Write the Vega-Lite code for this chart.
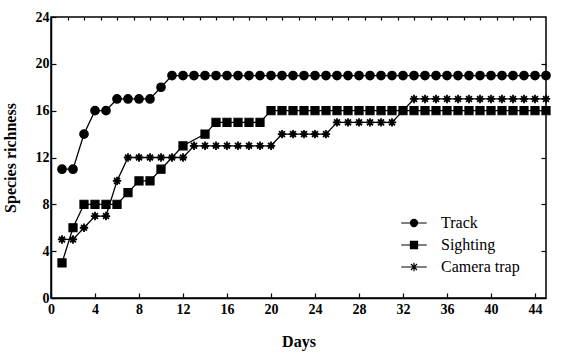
{
  "$schema": "https://vega.github.io/schema/vega-lite/v6.json",
  "autosize": "none",
  "width": 495,
  "height": 281,
  "padding": {"left": 51, "top": 17, "right": 21, "bottom": 57},
  "background": "white",
  "config": {
    "view": {"stroke": "black", "strokeWidth": 1.5},
    "font": "Liberation Serif",
    "axis": {"grid": false, "domainColor": "black", "domainWidth": 1.5, "tickColor": "black", "tickWidth": 1.2, "labelColor": "black", "titleColor": "black", "labelFont": "Liberation Serif", "titleFont": "Liberation Serif"},
    "legend": {"labelFont": "Liberation Serif", "titleFont": "Liberation Serif"}
  },
  "data": {"values": [
    {"day": 1, "Track": 11, "Sighting": 3, "Camera trap": 5},
    {"day": 2, "Track": 11, "Sighting": 6, "Camera trap": 5},
    {"day": 3, "Track": 14, "Sighting": 8, "Camera trap": 6},
    {"day": 4, "Track": 16, "Sighting": 8, "Camera trap": 7},
    {"day": 5, "Track": 16, "Sighting": 8, "Camera trap": 7},
    {"day": 6, "Track": 17, "Sighting": 8, "Camera trap": 10},
    {"day": 7, "Track": 17, "Sighting": 9, "Camera trap": 12},
    {"day": 8, "Track": 17, "Sighting": 10, "Camera trap": 12},
    {"day": 9, "Track": 17, "Sighting": 10, "Camera trap": 12},
    {"day": 10, "Track": 18, "Sighting": 11, "Camera trap": 12},
    {"day": 11, "Track": 19, "Sighting": null, "Camera trap": 12},
    {"day": 12, "Track": 19, "Sighting": 13, "Camera trap": 12},
    {"day": 13, "Track": 19, "Sighting": null, "Camera trap": 13},
    {"day": 14, "Track": 19, "Sighting": 14, "Camera trap": 13},
    {"day": 15, "Track": 19, "Sighting": 15, "Camera trap": 13},
    {"day": 16, "Track": 19, "Sighting": 15, "Camera trap": 13},
    {"day": 17, "Track": 19, "Sighting": 15, "Camera trap": 13},
    {"day": 18, "Track": 19, "Sighting": 15, "Camera trap": 13},
    {"day": 19, "Track": 19, "Sighting": 15, "Camera trap": 13},
    {"day": 20, "Track": 19, "Sighting": 16, "Camera trap": 13},
    {"day": 21, "Track": 19, "Sighting": 16, "Camera trap": 14},
    {"day": 22, "Track": 19, "Sighting": 16, "Camera trap": 14},
    {"day": 23, "Track": 19, "Sighting": 16, "Camera trap": 14},
    {"day": 24, "Track": 19, "Sighting": 16, "Camera trap": 14},
    {"day": 25, "Track": 19, "Sighting": 16, "Camera trap": 14},
    {"day": 26, "Track": 19, "Sighting": 16, "Camera trap": 15},
    {"day": 27, "Track": 19, "Sighting": 16, "Camera trap": 15},
    {"day": 28, "Track": 19, "Sighting": 16, "Camera trap": 15},
    {"day": 29, "Track": 19, "Sighting": 16, "Camera trap": 15},
    {"day": 30, "Track": 19, "Sighting": 16, "Camera trap": 15},
    {"day": 31, "Track": 19, "Sighting": 16, "Camera trap": 15},
    {"day": 32, "Track": 19, "Sighting": 16, "Camera trap": 16},
    {"day": 33, "Track": 19, "Sighting": 16, "Camera trap": 17},
    {"day": 34, "Track": 19, "Sighting": 16, "Camera trap": 17},
    {"day": 35, "Track": 19, "Sighting": 16, "Camera trap": 17},
    {"day": 36, "Track": 19, "Sighting": 16, "Camera trap": 17},
    {"day": 37, "Track": 19, "Sighting": 16, "Camera trap": 17},
    {"day": 38, "Track": 19, "Sighting": 16, "Camera trap": 17},
    {"day": 39, "Track": 19, "Sighting": 16, "Camera trap": 17},
    {"day": 40, "Track": 19, "Sighting": 16, "Camera trap": 17},
    {"day": 41, "Track": 19, "Sighting": 16, "Camera trap": 17},
    {"day": 42, "Track": 19, "Sighting": 16, "Camera trap": 17},
    {"day": 43, "Track": 19, "Sighting": 16, "Camera trap": 17},
    {"day": 44, "Track": 19, "Sighting": 16, "Camera trap": 17},
    {"day": 45, "Track": 19, "Sighting": 16, "Camera trap": 17}
  ]},
  "transform": [
    {"fold": ["Track", "Sighting", "Camera trap"], "as": ["series", "richness"]},
    {"filter": "datum.richness != null"}
  ],
  "layer": [
    {
      "mark": {"type": "line", "color": "black", "strokeWidth": 1.3},
      "encoding": {
        "x": {"field": "day", "type": "quantitative", "scale": {"domain": [0, 45], "nice": false},
          "axis": {"orient": "bottom", "values": [0,4,8,12,16,20,24,28,32,36,40,44], "tickSize": -5, "labelPadding": 9, "labelFontSize": 14, "labelFontWeight": "bold", "title": "Days", "titleFontSize": 16, "titleFontWeight": "bold", "titlePadding": 17, "labelFlush": false}},
        "y": {"field": "richness", "type": "quantitative", "scale": {"domain": [0, 24], "nice": false},
          "axis": {"orient": "left", "values": [0,4,8,12,16,20,24], "tickSize": -5, "labelPadding": 7, "labelFontSize": 14, "labelFontWeight": "bold", "title": "Species richness", "titleFontSize": 16, "titleFontWeight": "bold", "titlePadding": 17}},
        "detail": {"field": "series"}
      }
    },
    {
      "mark": {"type": "point", "filled": true, "stroke": "black", "opacity": 1},
      "encoding": {
        "x": {"field": "day", "type": "quantitative", "axis": null},
        "y": {"field": "richness", "type": "quantitative", "axis": null},
        "shape": {"field": "series", "type": "nominal",
          "scale": {"domain": ["Camera trap", "Sighting", "Track"], "range": ["M-1,0H1M0,-1V1M-0.7,-0.7L0.7,0.7M-0.7,0.7L0.7,-0.7", "square", "circle"]},
          "legend": null},
        "size": {"field": "series", "type": "nominal", "scale": {"domain": ["Sighting", "Track", "Camera trap"], "range": [66, 70, 100]}, "legend": null},
        "strokeWidth": {"field": "series", "type": "nominal", "scale": {"domain": ["Camera trap", "Track", "Sighting"], "range": [1.8, 1.1, 1.1]}, "legend": null},
        "color": {"field": "series", "type": "nominal",
          "scale": {"domain": ["Track", "Sighting", "Camera trap"], "range": ["black", "black", "black"]},
          "legend": {"title": null, "orient": "none", "legendX": 355, "legendY": 198, "padding": 0, "symbolSize": 50, "rowPadding": 6, "labelFont": "Liberation Serif", "labelFontSize": 16, "labelOffset": 19, "labelColor": "black", "symbolStrokeColor": "black", "symbolFillColor": "black", "symbolStrokeWidth": 1.2,
            "encoding": {
              "symbols": {"shape": {"value": {"expr": "datum.label === 'Track' ? 'M-3.6,0H3.6M1,0A1,1,0,1,1,-1,0A1,1,0,1,1,1,0Z' : datum.label === 'Sighting' ? 'M-3.6,0H3.6M-1,-1H1V1H-1Z' : 'M-3.6,0H3.6M0,-1.2V1.2M-0.85,-0.85L0.85,0.85M-0.85,0.85L0.85,-0.85'"}}, "stroke": {"value": "black"}, "strokeWidth": {"value": 1.2}}
            }}
        }
      }
    },
    {
      "mark": {"type": "line", "opacity": 0},
      "encoding": {
        "x": {"field": "day", "type": "quantitative",
          "axis": {"orient": "top", "values": [1.5,3,4.5,6,7.5,9,10.5,12,13.5,15,16.5,18,19.5,21,22.5,24,25.5,27,28.5,30,31.5,33,34.5,36,37.5,39,40.5,42,43.5], "tickSize": -3, "labels": false, "title": null, "domain": false}},
        "y": {"field": "richness", "type": "quantitative",
          "axis": {"orient": "right", "values": [4,8,12,16,20], "tickSize": -5, "labels": false, "title": null, "domain": false}},
        "detail": {"field": "series"}
      }
    }
  ],
  "resolve": {"axis": {"x": "independent", "y": "independent"}}
}
